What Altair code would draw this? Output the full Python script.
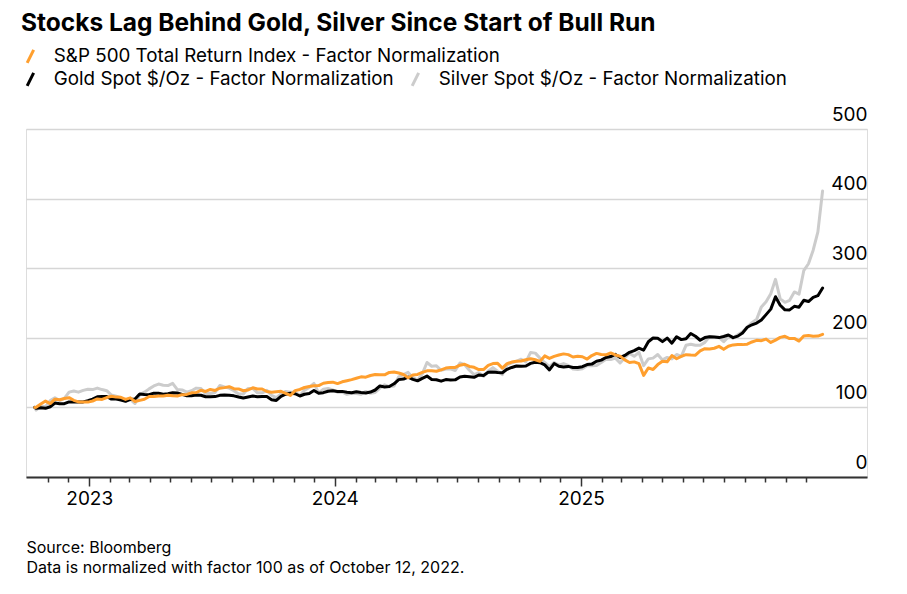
import altair as alt
import pandas as pd

FONT = "Inter"

SP_NAME = "S&P 500 Total Return Index - Factor Normalization"
GOLD_NAME = "Gold Spot $/Oz - Factor Normalization"
SILVER_NAME = "Silver Spot $/Oz - Factor Normalization"

TITLE = "Stocks Lag Behind Gold, Silver Since Start of Bull Run"
FOOTER = ["Source: Bloomberg", "Data is normalized with factor 100 as of October 12, 2022."]

# first point = base date, then weekly (Friday) observations through Dec 26, 2025
dates = [pd.Timestamp("2022-10-12")] + list(pd.date_range("2022-10-14", periods=168, freq="W-FRI"))

# monthly tick marks (Nov 2022 .. Dec 2025)
tick_months = [(2022, 11), (2022, 12)] + [(yr, m) for yr in (2023, 2024, 2025) for m in range(1, 13)]

sp500 = [100,
    100.2, 104.9, 109.1, 105.5, 111.8, 111.0, 112.7, 114.0, 110.2, 107.9, 107.7, 107.6,
    109.2, 112.1, 111.4, 114.2, 116.1, 114.8, 114.5, 111.5, 113.7, 108.5, 110.1, 111.7, 115.6,
    115.5, 116.5, 116.4, 117.5, 116.6, 116.3, 118.3, 118.7, 120.9, 121.4, 124.6, 122.9, 125.8,
    124.4, 127.5, 128.4, 129.8, 126.9, 126.5, 123.9, 125.0, 128.2, 126.5, 126.4, 122.8, 121.9,
    122.5, 123.1, 120.2, 117.2, 124.1, 125.8, 128.6, 130.0, 131.1, 131.4, 134.7, 135.8, 136.3,
    134.2, 136.8, 138.4, 139.9, 141.9, 143.9, 143.4, 145.8, 147.2, 146.9, 146.8, 150.2, 150.8,
    149.4, 147.2, 142.7, 146.6, 147.4, 150.2, 152.6, 152.7, 152.0, 154.0, 156.5, 157.5, 157.4,
    160.6, 162.0, 158.9, 157.6, 154.4, 154.4, 160.5, 162.9, 163.3, 156.4, 162.8, 165.1, 166.2,
    166.6, 168.5, 170.0, 168.4, 166.2, 174.0, 170.4, 173.3, 175.2, 176.9, 175.8, 172.4, 173.6,
    172.8, 169.5, 174.5, 177.6, 175.9, 175.5, 178.2, 175.3, 173.6, 168.3, 164.5, 165.4, 162.9,
    146.0, 156.7, 154.4, 161.5, 166.3, 165.6, 174.4, 169.9, 173.2, 175.8, 175.2, 175.0, 181.1,
    184.3, 183.8, 185.0, 187.7, 183.4, 187.9, 189.8, 190.3, 190.2, 190.9, 194.0, 196.4, 195.9,
    198.1, 193.4, 196.7, 200.6, 202.1, 198.9, 199.1, 195.3, 202.7, 203.4, 202.2, 202.5, 205.0]

gold = [100,
    98.7, 99.5, 98.7, 100.9, 106.3, 105.1, 105.3, 107.9, 107.9, 107.6, 107.9, 109.5,
    111.9, 115.2, 115.6, 115.7, 111.9, 111.9, 110.6, 108.7, 111.4, 112.1, 119.4, 118.7, 118.2,
    120.5, 120.3, 119.0, 119.5, 121.1, 120.7, 118.7, 116.8, 116.9, 117.7, 117.5, 115.3, 115.2,
    115.5, 117.3, 117.8, 117.6, 116.6, 114.9, 113.4, 114.9, 116.4, 115.2, 115.5, 115.5, 111.0,
    110.0, 116.0, 118.9, 120.4, 119.6, 116.4, 118.9, 120.1, 124.4, 120.3, 121.2, 123.2, 123.8,
    122.8, 123.0, 121.8, 121.1, 122.4, 121.5, 120.8, 122.1, 125.0, 130.8, 129.4, 130.0, 133.9,
    139.9, 140.7, 143.6, 140.3, 138.2, 141.7, 145.0, 140.1, 139.7, 137.7, 140.0, 139.4, 139.6,
    143.6, 144.7, 144.1, 143.2, 146.6, 145.9, 150.5, 150.8, 150.2, 149.9, 154.7, 157.4, 159.5,
    159.2, 159.5, 163.3, 164.9, 164.2, 161.1, 153.8, 163.0, 159.1, 158.0, 158.9, 157.4, 157.3,
    158.5, 161.5, 162.2, 166.3, 167.9, 171.7, 173.0, 176.2, 171.5, 174.7, 179.1, 181.5, 185.2,
    182.3, 194.3, 199.7, 199.2, 194.5, 199.6, 192.3, 201.5, 197.4, 198.7, 206.1, 202.2, 196.5,
    200.3, 201.4, 201.1, 200.3, 201.9, 204.0, 200.2, 202.4, 207.0, 215.2, 218.7, 221.2, 225.7,
    233.3, 241.2, 259.0, 246.8, 240.2, 240.1, 245.2, 244.0, 253.9, 252.1, 258.1, 260.5, 271.5]

silver = [100,
    96.2, 101.9, 100.9, 109.8, 114.0, 109.8, 113.0, 121.9, 123.5, 121.9, 124.5, 126.1,
    125.6, 127.7, 125.6, 124.0, 117.7, 116.1, 113.5, 109.3, 111.4, 105.6, 118.2, 121.9, 126.6,
    130.8, 133.5, 131.9, 131.4, 134.5, 125.6, 125.1, 121.9, 124.0, 127.7, 127.2, 119.8, 119.8,
    121.4, 131.4, 129.3, 127.7, 124.0, 119.3, 119.3, 127.2, 127.2, 120.9, 120.9, 124.5, 117.2,
    114.0, 119.3, 123.0, 121.9, 121.9, 117.2, 124.5, 128.7, 134.5, 120.9, 126.1, 127.2, 125.1,
    121.9, 121.9, 118.8, 120.3, 119.8, 118.8, 123.0, 120.3, 121.4, 127.7, 132.4, 129.8, 130.8,
    144.0, 147.1, 150.3, 142.9, 139.3, 148.2, 164.5, 159.2, 159.7, 153.4, 155.0, 155.5, 152.9,
    163.9, 161.3, 153.4, 147.1, 149.8, 144.5, 152.4, 157.1, 151.9, 147.1, 161.3, 163.9, 166.1,
    169.2, 165.5, 179.0, 178.0, 170.8, 164.5, 158.7, 164.5, 160.8, 162.9, 160.3, 155.0, 154.5,
    155.5, 159.7, 159.7, 160.3, 164.5, 169.2, 168.7, 170.8, 163.9, 171.3, 177.6, 173.4, 179.2,
    160.0, 169.7, 170.8, 176.0, 168.2, 171.8, 169.7, 176.0, 173.4, 189.2, 190.8, 189.2, 189.2,
    193.4, 201.8, 200.7, 200.7, 194.4, 201.3, 199.7, 204.4, 208.6, 215.4, 221.8, 226.5, 244.4,
    251.7, 263.3, 284.0, 255.9, 251.0, 253.8, 265.9, 262.7, 296.4, 306.4, 325.8, 352.1, 411.0]

ORANGE, BLACK, GRAY = "#FF9F2E", "#000000", "#CCCCCC"

date_str = [d.strftime("%Y-%m-%d") for d in dates]
metals_df = pd.concat(
    [pd.DataFrame({"date": date_str, "value": silver, "series": SILVER_NAME}),
     pd.DataFrame({"date": date_str, "value": gold, "series": GOLD_NAME})],
    ignore_index=True)
sp_df = pd.DataFrame({"date": date_str, "value": sp500, "series": SP_NAME})

legend_common = dict(
    title=None, orient="none", direction="horizontal", legendX=-5,
    symbolType="M-0.5,1L0.5,-1", symbolSize=169, symbolStrokeWidth=3,
    labelFontSize=18.8, labelFont=FONT, labelColor="#000000", labelOffset=14,
    columnPadding=12, labelLimit=800,
)

x = alt.X(
    "date:T",
    title=FOOTER,
    scale=alt.Scale(type="utc", nice=False,
                    domain=[alt.DateTime(year=2022, month=9, date=29, utc=True),
                            alt.DateTime(year=2026, month=3, date=2, utc=True)]),
    axis=alt.Axis(
        values=[alt.DateTime(year=yr, month=m, date=1, utc=True) for yr, m in tick_months],
        labelExpr="utcmonth(datum.value) == 0 ? utcFormat(datum.value, '%Y') : ''",
        labelOverlap=False, grid=False,
        domainColor="#333333", domainWidth=2,
        tickColor="#333333", tickWidth=1.5,
        tickSize={"condition": {"test": "utcmonth(datum.value) == 0", "value": 9}, "value": 5},
        labelFontSize=19, labelFont=FONT, labelColor="#000000", labelPadding=3,
        titleAnchor="start", titleAlign="left", titleFont=FONT, titleFontSize=16,
        titleFontWeight="normal", titleColor="#000000", titleLineHeight=20, titlePadding=31,
    ),
)

y = alt.Y(
    "value:Q",
    title=None,
    scale=alt.Scale(domain=[0, 500], nice=False),
    axis=alt.Axis(
        orient="right", values=[0, 100, 200, 300, 400, 500], grid=True,
        gridColor="#D6D6D6", gridWidth=1.5, domain=False, ticks=False, tickSize=0,
        labelAlign="right", labelBaseline="alphabetic", labelOffset=-9, labelPadding=0,
        labelFontSize=19, labelFont=FONT, labelColor="#000000",
    ),
)

line = dict(strokeWidth=3, strokeJoin="round", strokeCap="round")

metals = alt.Chart(metals_df).mark_line(**line).encode(
    x=x, y=y,
    color=alt.Color("series:N",
                    scale=alt.Scale(domain=[GOLD_NAME, SILVER_NAME], range=[BLACK, GRAY]),
                    legend=alt.Legend(legendY=-59, **legend_common)),
)

stocks = alt.Chart(sp_df).mark_line(**line).encode(
    x=x, y=y,
    color=alt.Color("series:N",
                    scale=alt.Scale(domain=[SP_NAME], range=[ORANGE]),
                    legend=alt.Legend(legendY=-82, **legend_common)),
)

chart = (
    alt.layer(metals, stocks)
    .resolve_scale(color="independent")
    .properties(
        width=841, height=348,
        padding={"left": 13, "top": 2, "right": 10, "bottom": 5},
        title=alt.TitleParams(TITLE, anchor="start", font=FONT, fontSize=24.5,
                              fontWeight="bold", color="#000000", offset=11),
    )
    .configure_view(stroke=None)
    .configure(background="white")
)

chart.save("out.html", embed_options={"renderer": "svg", "actions": False})
